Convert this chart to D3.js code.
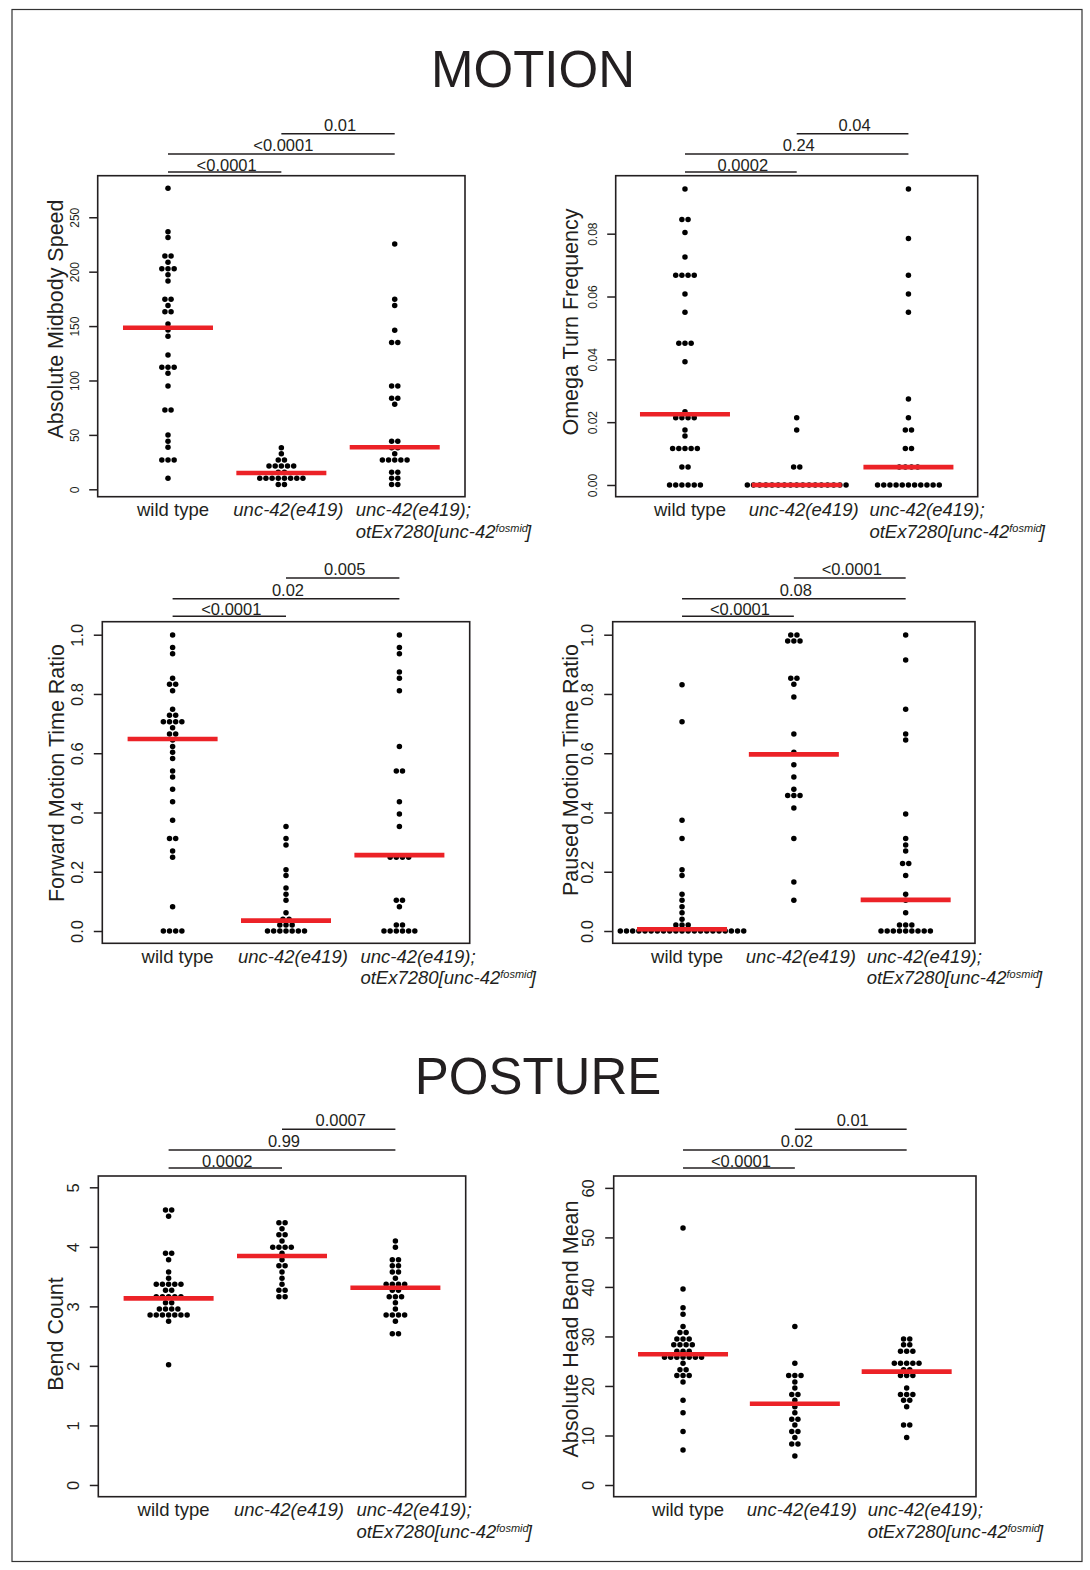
<!DOCTYPE html>
<html>
<head>
<meta charset="utf-8">
<script src="https://d3js.org/d3.v7.min.js"></script>
<style>
  body { margin: 0; background: #fff; }
  text { font-family: "Liberation Sans", Arial, Helvetica, sans-serif; fill: #231f20; }
</style>
</head>
<body>
<svg width="1090" height="1570"></svg>
<script>
// values, one entry per animal (rows of the swarm repeat a value)
var speedWT = [276.6, 236.8, 231.3, 214.4, 214.4, 208.6, 202.8, 202.8, 202.8, 197.2, 191.5,
  174.6, 174.6, 168.8, 163.2, 163.2, 151.9, 146.4, 140.6, 123.4, 112.1, 112.1, 112.1, 106.6,
  94.9, 72.9, 72.9, 49.9, 44.1, 38.6, 26.9, 26.9, 26.9, 10.1];
var speedUnc = [38.2, 32.7, 26.9, 26.9, 21.4, 21.4, 21.4, 21.4, 21.4, 15.6, 15.6,
  10.1, 10.1, 10.1, 10.1, 10.1, 10.1, 10.1, 10.1, 4.3, 4.3];
var speedRes = [225.5, 174.6, 168.8, 146.1, 134.8, 134.8, 94.9, 94.9, 83.6, 83.6, 78.1,
  44.1, 44.1, 38.2, 38.2, 32.7, 26.9, 26.9, 26.9, 26.9, 26.9, 15.6, 15.6, 10.1, 10.1, 4.3, 4.3];
var speedMid = [148.5, 15, 38.6];
var speedP = ["<0.0001", "<0.0001", "0.01"];
var speedTicks = [0, 50, 100, 150, 200, 250];

var omegaWT = [0.0942, 0.0845, 0.0845, 0.0804, 0.0726, 0.0668, 0.0668, 0.0668, 0.0668, 0.0608,
  0.0550, 0.0451, 0.0451, 0.0451, 0.0392, 0.0233, 0.0214, 0.0214, 0.0214, 0.0214, 0.0175, 0.0156,
  0.0116, 0.0116, 0.0116, 0.0116, 0.0116, 0.0057, 0.0057, 0, 0, 0, 0, 0, 0];
var omegaUnc = [0.0214, 0.0175, 0.0057, 0.0057, 0, 0, 0, 0, 0, 0, 0, 0, 0, 0, 0, 0, 0, 0, 0, 0, 0];
var omegaRes = [0.0942, 0.0785, 0.0668, 0.0608, 0.0550, 0.0274, 0.0214, 0.0175, 0.0175, 0.0116, 0.0116,
  0.0057, 0.0057, 0.0057, 0.0057, 0, 0, 0, 0, 0, 0, 0, 0, 0, 0, 0];
var omegaMid = [0.0225, 0, 0.0057];
var omegaP = ["0.0002", "0.24", "0.04"];
var omegaTicks = [0, 0.02, 0.04, 0.06, 0.08];

var fwdWT = [0.999, 0.957, 0.936, 0.853, 0.833, 0.833, 0.811, 0.748, 0.728, 0.728, 0.706, 0.706, 0.706, 0.706,
  0.686, 0.665, 0.665, 0.645, 0.623, 0.603, 0.582, 0.540, 0.520, 0.478, 0.436, 0.374, 0.312, 0.312,
  0.270, 0.249, 0.082, 0, 0, 0, 0];
var fwdUnc = [0.353, 0.312, 0.290, 0.207, 0.187, 0.145, 0.124, 0.104, 0.062, 0.040, 0.040,
  0.020, 0.020, 0.020, 0, 0, 0, 0, 0, 0, 0];
var fwdRes = [0.999, 0.957, 0.936, 0.874, 0.853, 0.811, 0.623, 0.540, 0.540, 0.436, 0.395, 0.353,
  0.249, 0.249, 0.249, 0.249, 0.104, 0.104, 0.082, 0.020, 0.020, 0, 0, 0, 0, 0, 0];
var fwdMid = [0.648, 0.035, 0.256];
var fwdP = ["<0.0001", "0.02", "0.005"];

var pauseWT = [0.831, 0.706, 0.374, 0.312, 0.207, 0.187, 0.124, 0.104, 0.082, 0.062, 0.040,
  0.020, 0.020, 0.020, 0, 0, 0, 0, 0, 0, 0, 0, 0, 0, 0, 0, 0, 0, 0, 0, 0, 0, 0, 0, 0];
var pauseUnc = [0.999, 0.999, 0.979, 0.979, 0.979, 0.853, 0.853, 0.833, 0.790, 0.665, 0.603, 0.561,
  0.520, 0.478, 0.457, 0.457, 0.457, 0.415, 0.312, 0.165, 0.104];
var pauseRes = [0.999, 0.915, 0.748, 0.665, 0.645, 0.395, 0.312, 0.290, 0.270, 0.228, 0.228, 0.187,
  0.124, 0.104, 0.062, 0.020, 0.020, 0.020, 0, 0, 0, 0, 0, 0, 0, 0, 0];
var pauseMid = [0.0057, 0.596, 0.105];
var pauseP = ["<0.0001", "0.08", "<0.0001"];
var ratioTicks = [0, 0.2, 0.4, 0.6, 0.8, 1.0];

var bendWT = [4.619, 4.619, 4.513, 3.891, 3.891, 3.785, 3.577, 3.471, 3.370, 3.370, 3.370, 3.370, 3.370,
  3.27, 3.27, 3.163, 3.163, 3.163, 3.163, 3.163, 3.062, 3.062, 2.956, 2.956, 2.956, 2.956,
  2.855, 2.855, 2.855, 2.855, 2.855, 2.855, 2.855, 2.749, 2.02];
var bendUnc = [4.406, 4.406, 4.305, 4.204, 4.204, 4.098, 3.992, 3.992, 3.992, 3.992, 3.891, 3.785,
  3.683, 3.683, 3.577, 3.471, 3.370, 3.27, 3.27, 3.163, 3.163];
var bendRes = [4.098, 3.992, 3.785, 3.785, 3.683, 3.683, 3.577, 3.577, 3.471, 3.370, 3.370, 3.370, 3.370,
  3.27, 3.27, 3.163, 3.163, 3.163, 3.062, 2.956, 2.855, 2.855, 2.855, 2.855, 2.749, 2.541, 2.541];
var bendMid = [3.135, 3.846, 3.314];
var bendP = ["0.0002", "0.99", "0.0007"];
var bendTicks = [0, 1, 2, 3, 4, 5];

var headWT = [51.9, 39.6, 35.8, 34.5, 32.0, 30.8, 30.8, 29.5, 29.5, 29.5, 28.3, 28.3, 28.3, 28.3,
  27.0, 27.0, 27.0, 25.8, 25.8, 25.8, 25.8, 25.8, 25.8, 25.8, 24.6, 23.3, 23.3, 22.1, 22.1, 22.1,
  20.8, 17.1, 14.6, 10.8, 7.06];
var headUnc = [32.0, 24.6, 22.1, 22.1, 22.1, 20.8, 19.6, 18.3, 18.3, 17.1, 15.8, 14.6, 13.3, 13.3,
  12.1, 10.8, 10.8, 9.6, 8.3, 8.3, 5.85];
var headRes = [29.5, 29.5, 28.3, 28.3, 27.0, 27.0, 27.0, 24.6, 24.6, 24.6, 24.6, 24.6, 23.3, 23.3,
  22.1, 22.1, 22.1, 19.6, 18.3, 18.3, 18.3, 17.1, 17.1, 15.8, 12.1, 12.1, 9.6];
var headMid = [26.4, 16.4, 22.9];
var headP = ["<0.0001", "0.02", "0.01"];
var headTicks = [0, 10, 20, 30, 40, 50, 60];

var pairs = [[0, 1], [0, 2], [1, 2]];

var panels = [
  { title: "Absolute Midbody Speed", groups: [speedWT, speedUnc, speedRes], mid: speedMid, p: speedP,
    ticks: speedTicks, fmt: d3.format("d"), tickFont: 12, box: [97.7, 465, 175.7, 496.7],
    domain: [-6.8, 288.2], titleX: 62.5, titleY: 319, brk: [-3.7, -21.7, -42] },
  { title: "Omega Turn Frequency", groups: [omegaWT, omegaUnc, omegaRes], mid: omegaMid, p: omegaP,
    ticks: omegaTicks, fmt: d3.format(".2f"), tickFont: 12, box: [615.7, 977.7, 175.7, 496.7],
    domain: [-0.00373, 0.09846], titleX: 577.5, titleY: 322, brk: [-3.7, -21.7, -42] },
  { title: "Forward Motion Time Ratio", groups: [fwdWT, fwdUnc, fwdRes], mid: fwdMid, p: fwdP,
    ticks: ratioTicks, fmt: d3.format(".1f"), tickFont: 16.5, box: [102.3, 469.7, 621.7, 943.3],
    domain: [-0.0415, 1.0439], titleX: 63.5, titleY: 773, brk: [-5.4, -23, -43.7] },
  { title: "Paused Motion Time Ratio", groups: [pauseWT, pauseUnc, pauseRes], mid: pauseMid, p: pauseP,
    ticks: ratioTicks, fmt: d3.format(".1f"), tickFont: 16.5, box: [612.7, 975, 621.7, 943.3],
    domain: [-0.0415, 1.0439], titleX: 577.5, titleY: 770, brk: [-5.4, -23, -43.7] },
  { title: "Bend Count", groups: [bendWT, bendUnc, bendRes], mid: bendMid, p: bendP,
    ticks: bendTicks, fmt: d3.format("d"), tickFont: 16.5, box: [98.3, 465.7, 1176, 1496.7],
    domain: [-0.197, 5.19], titleX: 62.7, titleY: 1334, brk: [-8, -26, -46.7] },
  { title: "Absolute Head Bend Mean", groups: [headWT, headUnc, headRes], mid: headMid, p: headP,
    ticks: headTicks, fmt: d3.format("d"), tickFont: 16.5, box: [613.7, 976, 1176, 1496.7],
    domain: [-2.36, 62.4], titleX: 578, titleY: 1329, brk: [-8, -26, -46.7] }
];

var svg = d3.select("svg");
var ink = "#231f20";
var red = "#ec2227";
var pitch = 6.17;   // beeswarm spacing in px
var dotR = 2.75;

// outer frame of the figure
svg.append("rect")
    .attr("x", 12).attr("y", 9.5)
    .attr("width", 1070).attr("height", 1552)
    .attr("fill", "none").attr("stroke", "#333").attr("stroke-width", 1.2);

svg.append("text").attr("x", 533).attr("y", 87).attr("text-anchor", "middle")
    .style("font-size", "51px").text("MOTION");
svg.append("text").attr("x", 538).attr("y", 1094).attr("text-anchor", "middle")
    .style("font-size", "51px").text("POSTURE");

panels.forEach(drawPanel);

function drawPanel(p) {
  var left = p.box[0], right = p.box[1], top = p.box[2], bottom = p.box[3];
  var x = d3.scaleLinear().domain([0.38, 3.62]).range([left, right]);
  var y = d3.scaleLinear().domain(p.domain).range([bottom, top]);
  var g = svg.append("g");

  // y axis, R style: labels parallel to axis
  var ax = g.append("g")
      .attr("transform", "translate(" + left + ",0)")
      .call(d3.axisLeft(y).tickValues(p.ticks).tickSize(8.5).tickFormat(p.fmt));
  ax.select(".domain").remove();
  ax.selectAll("line").attr("stroke", ink).attr("stroke-width", 1.5);
  ax.selectAll("text")
      .attr("transform", "rotate(-90)")
      .attr("x", 0)
      .attr("y", p.tickFont > 14 ? -19.5 : -18.5)
      .attr("dy", 0)
      .attr("text-anchor", "middle")
      .attr("fill", ink)
      .style("font-size", p.tickFont + "px")
      .style("font-family", '"Liberation Sans", Arial, sans-serif');

  g.append("rect")
      .attr("x", left).attr("y", top)
      .attr("width", right - left).attr("height", bottom - top)
      .attr("fill", "none").attr("stroke", ink).attr("stroke-width", 1.6);

  g.append("text")
      .attr("transform", "translate(" + p.titleX + "," + p.titleY + ") rotate(-90)")
      .attr("text-anchor", "middle")
      .style("font-size", "21.5px")
      .text(p.title);

  // beeswarm: points sharing a value go side by side, centred on the group
  p.groups.forEach(function(vals, gi) {
    var cx = x(gi + 1);
    var rows = d3.group(vals, function(v) { return v; });
    rows.forEach(function(row, v) {
      var n = row.length;
      g.selectAll(null)
          .data(row)
          .enter().append("circle")
          .attr("cx", function(d, i) { return cx + (i - (n - 1) / 2) * pitch; })
          .attr("cy", y(v))
          .attr("r", dotR)
          .attr("fill", "#000");
    });
  });

  // red centre lines
  g.selectAll(null)
      .data(p.mid)
      .enter().append("line")
      .attr("x1", function(d, i) { return x(i + 1) - 45; })
      .attr("x2", function(d, i) { return x(i + 1) + 45; })
      .attr("y1", function(d) { return y(d); })
      .attr("y2", function(d) { return y(d); })
      .attr("stroke", red)
      .attr("stroke-width", 4.6);

  // significance brackets
  pairs.forEach(function(pr, k) {
    var ly = top + p.brk[k];
    var x1 = x(pr[0] + 1), x2 = x(pr[1] + 1);
    g.append("line")
        .attr("x1", x1).attr("x2", x2).attr("y1", ly).attr("y2", ly)
        .attr("stroke", ink).attr("stroke-width", 1.5);
    g.append("text")
        .attr("x", (x1 + x2) / 2 + 2)
        .attr("y", ly - (k == 0 ? 1.5 : 3))
        .attr("text-anchor", "middle")
        .style("font-size", "16.5px")
        .text(p.p[k]);
  });

  // category labels
  var ly0 = bottom + 19.5;
  g.append("text").attr("x", x(1) + 5).attr("y", ly0).attr("text-anchor", "middle")
      .style("font-size", "18.5px").text("wild type");
  g.append("text").attr("x", x(2) + 7).attr("y", ly0).attr("text-anchor", "middle")
      .style("font-size", "18.5px").style("font-style", "italic").text("unc-42(e419)");
  g.append("text").attr("x", x(3) - 39).attr("y", ly0)
      .style("font-size", "18.5px").style("font-style", "italic").text("unc-42(e419);");
  var l2 = g.append("text").attr("x", x(3) - 39).attr("y", ly0 + 21.5)
      .style("font-size", "18.5px").style("font-style", "italic");
  l2.append("tspan").text("otEx7280[unc-42");
  l2.append("tspan").attr("dy", -6).style("font-size", "11px").text("fosmid");
  l2.append("tspan").attr("dy", 6).attr("dx", -2).text("]");
}
</script>
</body>
</html>
